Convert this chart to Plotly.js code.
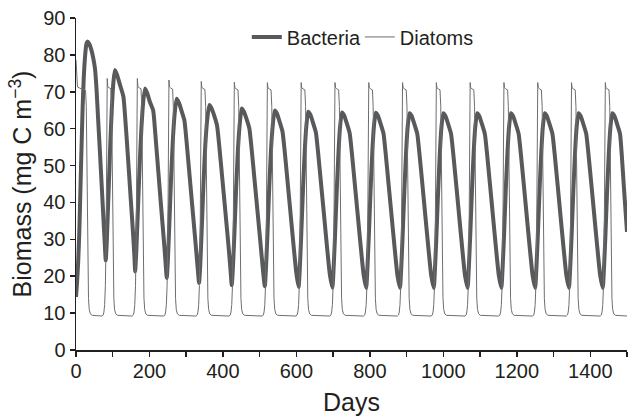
<!DOCTYPE html>
<html><head><meta charset="utf-8">
<script src="https://cdn.plot.ly/plotly-3.0.1.min.js"></script>
<style>html,body{margin:0;padding:0;background:#fff}#chart{width:630px;height:416px}</style>
</head><body><div id="chart"></div>
<script>
// Bacteria biomass (mg C m-3) vs day
const bacteriaDays = [
0,3,6,9,11,14,18,21,25,28,31,36,42,48,52,56,60,65,70,75,78,81,
84,88,93,98,102,106,
112,120,129,135,142,149,155,159,161,
164,168,173,178,183,188,
194,201,210,216,224,232,239,244,247,
250,254,259,264,269,274,
281,288,295,301,309,317,325,331,335,
338,342,347,352,357,363,
369,376,384,390,398,406,414,420,424,
427,431,436,441,446,451,
457,464,472,478,486,494,502,509,514,
517,521,526,531,536,541,
547,553,562,568,576,584,592,600,606,
609,613,618,623,627,632,
638,644,653,659,667,675,683,691,698,
701,705,710,715,719,724,
730,736,745,751,759,767,775,783,790,
793,797,802,807,811,816,
822,828,837,843,851,859,867,875,882,
885,889,894,899,903,908,
914,920,929,935,943,951,959,967,974,
977,981,986,991,995,1000,
1006,1012,1021,1027,1035,1043,1051,1059,1066,
1069,1073,1078,1083,1087,1092,
1098,1104,1113,1119,1127,1135,1143,1151,1158,
1161,1165,1170,1175,1179,1184,
1190,1196,1205,1211,1219,1227,1235,1243,1250,
1253,1257,1262,1267,1271,1276,
1282,1288,1297,1303,1311,1319,1327,1335,1342,
1345,1349,1354,1359,1363,1368,
1374,1380,1389,1395,1403,1411,1419,1427,1434,
1437,1441,1446,1451,1455,1460,
1466,1472,1481,1486,1492,1500];
const bacteriaValues = [
14.4,18.5,24,32,39.5,51,65.5,73.5,80,82.8,83.6,83.0,81.3,78.6,76.0,70.5,63,54,44.5,35,29.5,24.3,
30,41,55,66.5,72.8,75.9,
74.5,71.8,68.7,61.5,51.5,41,32,25.5,21.3,
26.5,36.5,49.5,60,67.3,70.9,
69.6,67.3,65.0,58.5,48.5,38.5,30,23.5,19.5,
24,34,47,57.5,64.5,68.1,
66.8,64.6,62.3,56.5,47.5,38.5,29.5,22.5,18.2,
22.5,32,45,55.5,62.3,66.4,
65.5,63.6,60.8,55.3,46.8,38.2,29.5,22.5,17.6,
22,31,44,54.5,61.5,65.5,
64.6,62.7,60.0,54.6,46.2,37.7,29.2,21.6,17.3,
21.8,31,44,54.5,61.3,64.9,
64.1,62.3,59.3,54,45.6,37.1,28.6,20.7,17.1,
21.6,30.8,43.8,54.4,60.7,64.6,
63.8,62.0,59.0,53.6,45.2,36.8,28.3,20.5,16.9,
21.5,30.6,43.6,54.4,60.7,64.4,
63.6,61.8,58.8,53.4,45,36.6,28.2,20.4,16.8,
21.5,30.5,43.5,54.4,60.6,64.3,
63.5,61.7,58.7,53.3,44.9,36.5,28.1,20.3,16.8,
21.5,30.5,43.5,54.3,60.6,64.2,
63.4,61.6,58.6,53.2,44.9,36.4,28.0,20.2,16.8,
21.5,30.5,43.5,54.3,60.6,64.2,
63.4,61.6,58.6,53.2,44.9,36.4,28.0,20.2,16.8,
21.5,30.5,43.5,54.3,60.6,64.2,
63.4,61.6,58.6,53.2,44.9,36.4,28.0,20.2,16.8,
21.5,30.5,43.5,54.3,60.6,64.2,
63.4,61.6,58.6,53.2,44.9,36.4,28.0,20.2,16.8,
21.5,30.5,43.5,54.3,60.6,64.2,
63.4,61.6,58.6,53.2,44.9,36.4,28.0,20.2,16.8,
21.5,30.5,43.5,54.3,60.6,64.2,
63.4,61.6,58.6,53.2,44.9,36.4,28.0,20.2,16.8,
21.5,30.5,43.5,54.3,60.6,64.2,
63.4,61.6,58.6,52.5,43.5,32];

// Diatom biomass (mg C m-3) vs day
const diatomDays = [
0,2,4,10,20,26,28,29.5,31,32.5,34,36,39,44,
71,74,76,78,80,82,83.5,85,86.5,90,95,97,98.5,100,101.5,103,105,108,113,
153,156,158,160,162,164,165.5,167,168.5,172,177,179,180.5,182,183.5,185,187,190,195,
239,242,244,246,248,250,251.5,253,254.5,258,263,265,266.5,268,269.5,271,273,276,281,
327,330,332,334,336,338,339.5,341,342.5,346,351,353,354.5,356,357.5,359,361,364,369,
417,420,422,424,426,428,429.5,431,432.5,436,441,443,444.5,446,447.5,449,451,454,459,
507,510,512,514,516,518,519.5,521,522.5,526,531,533,534.5,536,537.5,539,541,544,549,
599,602,604,606,608,610,611.5,613,614.5,618,623,625,626.5,628,629.5,631,633,636,641,
691,694,696,698,700,702,703.5,705,706.5,710,715,717,718.5,720,721.5,723,725,728,733,
783,786,788,790,792,794,795.5,797,798.5,802,807,809,810.5,812,813.5,815,817,820,825,
875,878,880,882,884,886,887.5,889,890.5,894,899,901,902.5,904,905.5,907,909,912,917,
967,970,972,974,976,978,979.5,981,982.5,986,991,993,994.5,996,997.5,999,1001,1004,1009,
1059,1062,1064,1066,1068,1070,1071.5,1073,1074.5,1078,1083,1085,1086.5,1088,1089.5,1091,1093,1096,1101,
1151,1154,1156,1158,1160,1162,1163.5,1165,1166.5,1170,1175,1177,1178.5,1180,1181.5,1183,1185,1188,1193,
1243,1246,1248,1250,1252,1254,1255.5,1257,1258.5,1262,1267,1269,1270.5,1272,1273.5,1275,1277,1280,1285,
1335,1338,1340,1342,1344,1346,1347.5,1349,1350.5,1354,1359,1361,1362.5,1364,1365.5,1367,1369,1372,1377,
1427,1430,1432,1434,1436,1438,1439.5,1441,1442.5,1446,1451,1453,1454.5,1456,1457.5,1459,1461,1464,1469,
1485,1500];
const diatomValues = [
78.6,72.0,71.3,71.0,70.7,70.4,66,52,35,21,14,11,9.8,9.4,
9.2,9.5,10.3,12.3,17.5,31,51,73.6,71.4,71.1,70.8,66,52,35,21,14,11,9.8,9.4,
9.2,9.5,10.3,12.3,17.5,31,51,73.6,71.4,71.1,70.8,66,52,35,21,14,11,9.8,9.4,
9.2,9.5,10.3,12.3,17.5,31,51,73.2,71.3,71.0,70.7,66,52,35,21,14,11,9.8,9.4,
9.2,9.5,10.3,12.3,17.5,31,51,72.8,71.2,70.9,70.6,66,52,35,21,14,11,9.8,9.4,
9.2,9.5,10.3,12.3,17.5,31,51,72.6,71.1,70.8,70.5,66,52,35,21,14,11,9.8,9.4,
9.2,9.5,10.3,12.3,17.5,31,51,72.5,71.1,70.8,70.5,66,52,35,21,14,11,9.8,9.4,
9.2,9.5,10.3,12.3,17.5,31,51,72.5,71.1,70.8,70.5,66,52,35,21,14,11,9.8,9.4,
9.2,9.5,10.3,12.3,17.5,31,51,72.5,71.1,70.8,70.5,66,52,35,21,14,11,9.8,9.4,
9.2,9.5,10.3,12.3,17.5,31,51,72.5,71.1,70.8,70.5,66,52,35,21,14,11,9.8,9.4,
9.2,9.5,10.3,12.3,17.5,31,51,72.5,71.1,70.8,70.5,66,52,35,21,14,11,9.8,9.4,
9.2,9.5,10.3,12.3,17.5,31,51,72.5,71.1,70.8,70.5,66,52,35,21,14,11,9.8,9.4,
9.2,9.5,10.3,12.3,17.5,31,51,72.5,71.1,70.8,70.5,66,52,35,21,14,11,9.8,9.4,
9.2,9.5,10.3,12.3,17.5,31,51,72.5,71.1,70.8,70.5,66,52,35,21,14,11,9.8,9.4,
9.2,9.5,10.3,12.3,17.5,31,51,72.5,71.1,70.8,70.5,66,52,35,21,14,11,9.8,9.4,
9.2,9.5,10.3,12.3,17.5,31,51,72.5,71.1,70.8,70.5,66,52,35,21,14,11,9.8,9.4,
9.2,9.5,10.3,12.3,17.5,31,51,72.5,71.1,70.8,70.5,66,52,35,21,14,11,9.8,9.4,
9.2,9.2];

const seriesNames = ['Bacteria', 'Diatoms'];
const xTitle = 'Days';
const yTitle = 'Biomass (mg C m<sup>\u22123</sup>)';

const ink = '#231f20';
const traces = [
  {x: bacteriaDays, y: bacteriaValues, name: seriesNames[0], type: 'scatter', mode: 'lines',
   line: {color: '#58595b', width: 4, shape: 'spline', smoothing: 0.5}},
  {x: diatomDays, y: diatomValues, name: seriesNames[1], type: 'scatter', mode: 'lines',
   line: {color: '#6d6e71', width: 1}}
];

const axisCommon = {
  showline: true, linecolor: ink, linewidth: 1.5, showgrid: false, zeroline: false,
  ticks: 'outside', ticklen: 5, tickwidth: 1.5, tickcolor: ink,
  tickfont: {size: 20, color: ink}, fixedrange: true
};

const layout = {
  width: 630, height: 416,
  margin: {l: 76, r: 3, t: 18, b: 66, pad: 0},
  paper_bgcolor: '#fff', plot_bgcolor: '#fff',
  font: {family: '"Liberation Sans", Arial, Helvetica, sans-serif', size: 20, color: ink},
  showlegend: true,
  legend: {orientation: 'h', x: 0.31, xanchor: 'left', y: 0.943, yanchor: 'middle',
           bgcolor: 'rgba(0,0,0,0)', font: {size: 20, color: ink}, itemwidth: 30,
           entrywidth: 68, entrywidthmode: 'pixels'},
  xaxis: Object.assign({}, axisCommon, {
    range: [0, 1500], tickmode: 'linear', tick0: 0, dtick: 200, ticklabelstandoff: -3,
    minor: {dtick: 100, ticks: 'outside', ticklen: 5, tickwidth: 1.5, tickcolor: ink, showgrid: false},
    title: {text: xTitle, font: {size: 25, color: ink}, standoff: 14}
  }),
  yaxis: Object.assign({}, axisCommon, {
    range: [0, 90], tickmode: 'linear', tick0: 0, dtick: 10,
    title: {text: yTitle, font: {size: 25, color: ink}, standoff: 4}
  })
};

Plotly.newPlot('chart', traces, layout, {staticPlot: true, displayModeBar: false});
</script>
</body></html>
